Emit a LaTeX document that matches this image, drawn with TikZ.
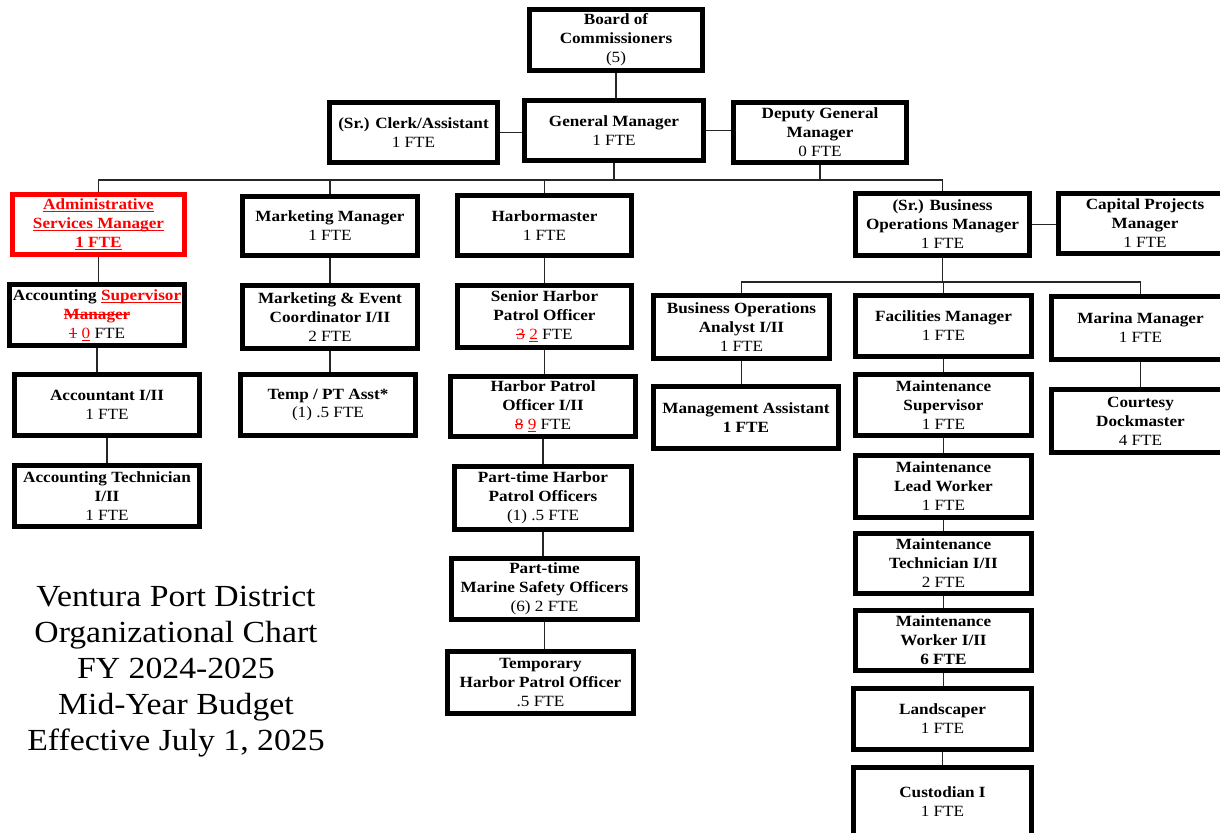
\documentclass[tikz,border=0pt]{standalone}
\usepackage{fontspec}
\setmainfont{Liberation Serif}[FakeStretch=1.1]
\definecolor{mkred}{RGB}{255,0,0}
\tikzset{
  box/.style={draw=black, line width=3.7pt, fill=white, align=center, inner sep=0pt,
    font=\bfseries\fontsize{11.7}{14.2}\selectfont, text=black},
  redbox/.style={draw=mkred, text=mkred},
  link/.style={line width=1pt, draw=black!85},
  ttl/.style={align=center, font=\fontsize{23}{27}\selectfont, inner sep=0pt}
}
\newsavebox\stbox
\newcommand\strk[1]{\sbox\stbox{#1}\rlap{\rule[0.27em]{\wd\stbox}{0.7pt}}\usebox\stbox}
\newcommand\undl[1]{\sbox\stbox{#1}\rlap{\rule[-0.16em]{\wd\stbox}{0.7pt}}\usebox\stbox}
\newcommand\bx[7][]{%
  \pgfmathsetmacro\bxcx{(#3+#5)/2}%
  \pgfmathsetmacro\bxcy{(#4+#6)/2}%
  \pgfmathsetmacro\bxw{(#5-#3-5)*0.75}%
  \pgfmathsetmacro\bxh{(#6-#4-5)*0.75}%
  \node[box,#1,minimum width=\bxw pt,minimum height=\bxh pt] (#2) at (\bxcx,\bxcy) {#7};}
\newcommand\fte[1]{{\mdseries #1}}
\newcommand\rs[1]{\textcolor{mkred}{\strk{#1}}}
\newcommand\ru[1]{\textcolor{mkred}{\undl{#1}}}
\begin{document}
\begin{tikzpicture}[x=0.75pt,y=-0.75pt]
\useasboundingbox (0,0) rectangle (1220,832);
\fill[white] (0,0) rectangle (1220,832);
\clip (0,0) rectangle (1220,832);
% top
\bx{board}{527}{7}{705}{73}{Board of\\Commissioners\\\fte{(5)}}
\bx{clerk}{327}{100}{500}{165}{(Sr.) Clerk/Assistant\\\fte{1 FTE}}
\bx{gm}{522}{98}{706}{163}{General Manager\\\fte{1 FTE}}
\bx{dgm}{731}{100}{909}{165}{Deputy General\\Manager\\\fte{0 FTE}}
% departments
\bx[redbox]{admin}{10}{192}{187}{257}{\undl{Administrative}\\\undl{Services Manager}\\\undl{1 FTE}}
\bx{mm}{240}{194}{420}{258}{Marketing Manager\\\fte{1 FTE}}
\bx{hm}{455}{193}{634}{258}{Harbormaster\\\fte{1 FTE}}
\bx{bom}{853}{191}{1032}{258}{(Sr.) Business\\Operations Manager\\\fte{1 FTE}}
\bx{cpm}{1056}{191}{1234}{256}{Capital Projects\\Manager\\\fte{1 FTE}}
% admin column
\bx{acct}{7}{282}{187}{348}{Accounting \ru{Supervisor}\\\rs{Manager}\\\fte{\rs{1} \ru{0} FTE}}
\bx{acc}{12}{372}{202}{438}{Accountant I/II\\\fte{1 FTE}}
\bx{tech}{12}{463}{202}{529}{Accounting Technician\\I/II\\\fte{1 FTE}}
% marketing column
\bx{mec}{240}{283}{420}{351}{Marketing \& Event\\Coordinator I/II\\\fte{2 FTE}}
\bx{temp}{238}{372}{418}{438}{Temp / PT Asst*\\\fte{(1) .5 FTE}}
% harbor column
\bx{shpo}{455}{283}{634}{350}{Senior Harbor\\Patrol Officer\\\fte{\rs{3} \ru{2} FTE}}
\bx{hpo}{448}{374}{638}{439}{Harbor Patrol\\Officer I/II\\\fte{\rs{8} \ru{9} FTE}}
\bx{pthpo}{452}{464}{634}{532}{Part-time Harbor\\Patrol Officers\\\fte{(1) .5 FTE}}
\bx{mso}{449}{556}{640}{622}{Part-time\\Marine Safety Officers\\\fte{(6) 2 FTE}}
\bx{thpo}{445}{649}{636}{716}{Temporary\\Harbor Patrol Officer\\\fte{.5 FTE}}
% business operations
\bx{boa}{651}{293}{832}{361}{Business Operations\\Analyst I/II\\\fte{1 FTE}}
\bx{ma}{651}{384}{841}{451}{Management Assistant\\1 FTE}
\bx{fac}{853}{293}{1034}{359}{Facilities Manager\\\fte{1 FTE}}
\bx{msup}{853}{372}{1034}{438}{Maintenance\\Supervisor\\\fte{1 FTE}}
\bx{mlw}{853}{453}{1034}{520}{Maintenance\\Lead Worker\\\fte{1 FTE}}
\bx{mtech}{853}{531}{1034}{596}{Maintenance\\Technician I/II\\\fte{2 FTE}}
\bx{mwork}{853}{608}{1034}{673}{Maintenance\\Worker I/II\\6 FTE}
\bx{land}{851}{686}{1034}{752}{Landscaper\\\fte{1 FTE}}
\bx{cust}{851}{765}{1034}{838}{Custodian I\\\fte{1 FTE}}
\bx{marina}{1049}{294}{1232}{362}{Marina Manager\\\fte{1 FTE}}
\bx{court}{1049}{387}{1232}{455}{Courtesy\\Dockmaster\\\fte{4 FTE}}
% title
\node[ttl] (title) at (176,672) {Ventura Port District\\Organizational Chart\\FY 2024-2025\\Mid-Year Budget\\Effective July 1, 2025};
% bus coordinates
\coordinate (b1) at (0,180);
\coordinate (b2) at (0,282);
% connectors
\draw[link] (board.south) -- (board.south |- gm.north);
\draw[link] (clerk.east) -- (clerk.east -| gm.west);
\draw[link] (gm.east) -- (gm.east -| dgm.west);
\draw[link] (gm.south) -- (gm.south |- b1);
\draw[link] (dgm.south) -- (dgm.south |- b1);
\draw[link] (admin.north) -- (admin.north |- b1) -- (bom.north |- b1) -- (bom.north);
\draw[link] (mm.north) -- (mm.north |- b1);
\draw[link] (hm.north) -- (hm.north |- b1);
\draw[link] (bom.east) -- (bom.east -| cpm.west);
\draw[link] (bom.south) -- (bom.south |- b2);
\draw[link] (boa.north) -- (boa.north |- b2) -- (marina.north |- b2) -- (marina.north);
\draw[link] (fac.north) -- (fac.north |- b2);
\draw[link] (admin.south) -- (admin.south |- acct.north);
\draw[link] (acct.south) -- (acct.south |- acc.north);
\draw[link] (acc.south) -- (acc.south |- tech.north);
\draw[link] (mm.south) -- (mm.south |- mec.north);
\draw[link] (mec.south) -- (mec.south |- temp.north);
\draw[link] (hm.south) -- (hm.south |- shpo.north);
\draw[link] (shpo.south) -- (shpo.south |- hpo.north);
\draw[link] (hpo.south) -- (hpo.south |- pthpo.north);
\draw[link] (pthpo.south) -- (pthpo.south |- mso.north);
\draw[link] (mso.south) -- (mso.south |- thpo.north);
\draw[link] (boa.south) -- (boa.south |- ma.north);
\draw[link] (fac.south) -- (fac.south |- msup.north);
\draw[link] (msup.south) -- (msup.south |- mlw.north);
\draw[link] (mlw.south) -- (mlw.south |- mtech.north);
\draw[link] (mtech.south) -- (mtech.south |- mwork.north);
\draw[link] (mwork.south) -- (mwork.south |- land.north);
\draw[link] (land.south) -- (land.south |- cust.north);
\draw[link] (marina.south) -- (marina.south |- court.north);
\end{tikzpicture}
\end{document}
